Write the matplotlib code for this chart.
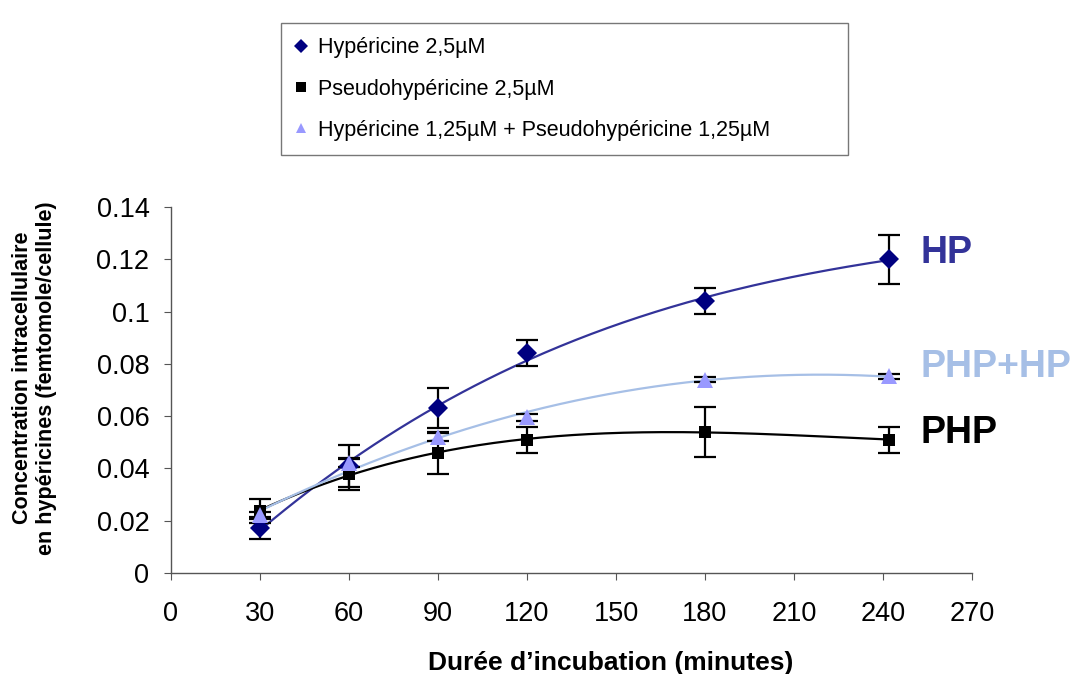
import numpy as np
import matplotlib.pyplot as plt

plt.rcParams['font.family'] = ['Liberation Sans', 'DejaVu Sans']

# time points (minutes)
t = [30, 60, 90, 120, 180, 242]

hp = [0.0172, 0.041, 0.0631, 0.0840, 0.1040, 0.1200]
hp_err = [0.0043, 0.008, 0.0075, 0.0050, 0.0050, 0.0094]

php = [0.0238, 0.0379, 0.0459, 0.0510, 0.0540, 0.0510]
php_err = [0.0045, 0.0060, 0.0080, 0.0050, 0.0095, 0.0050]

mix = [0.0220, 0.0420, 0.0520, 0.0595, 0.0740, 0.0752]
mix_err = [0.0015, 0.0015, 0.0015, 0.0015, 0.0010, 0.0010]

labels = ['Hypéricine 2,5µM', 'Pseudohypéricine 2,5µM',
          'Hypéricine 1,25µM + Pseudohypéricine 1,25µM']

hp_line = '#333399'
mix_line = '#a6bfe6'

fig = plt.figure(figsize=(10.72, 6.74), dpi=100)
ax = fig.add_axes([171/1072, 1 - 573/674, (972-171)/1072, (573-207)/674])

xs = np.linspace(t[0], t[-1], 200)
series = [
    (hp, hp_err, 'D', '#000080', hp_line, 10, labels[0], 3),
    (php, php_err, 's', 'black', 'black', 8.5, labels[1], 3),
    (mix, mix_err, '^', '#9999ff', mix_line, 11, labels[2], 2),
]
handles = []
for vals, err, mk, mc, lc, ms, lab, deg in series:
    # polynomial trend line fitted to the data
    coef = np.polyfit(t, vals, deg)
    ax.plot(xs, np.polyval(coef, xs), color=lc, lw=1.6, zorder=2)
    ax.errorbar(t, vals, yerr=err, fmt='none', ecolor='black', elinewidth=1.6,
                capsize=8, capthick=1.6, zorder=3)
    h, = ax.plot(t, vals, linestyle='none', marker=mk, color=mc, ms=ms,
                 markeredgewidth=0, zorder=4, label=lab)
    handles.append(h)

ax.set_xlim(0, 270)
ax.set_ylim(0, 0.14)
ax.set_xticks(range(0, 271, 30))
ax.set_yticks(np.arange(0, 0.141, 0.02))
ax.set_yticklabels(['0', '0.02', '0.04', '0.06', '0.08', '0.1', '0.12', '0.14'])
for s in ['top', 'right']:
    ax.spines[s].set_visible(False)
for s in ['left', 'bottom']:
    ax.spines[s].set_color('#555555')
    ax.spines[s].set_linewidth(1)
ax.tick_params(direction='out', length=5, color='#555555', labelsize=19.5)
ax.tick_params(axis='x', pad=15)
ax.tick_params(axis='y', pad=10.5)

ax.set_xlabel('Durée d’incubation (minutes)', fontsize=19, fontweight='bold')
ax.xaxis.set_label_coords(0.549, -0.213)
ax.set_ylabel('Concentration intracellulaire\nen hypéricines (femtomole/cellule)',
              fontsize=15.5, fontweight='bold')
ax.yaxis.set_label_coords(-0.142, 0.533)

ax.text(252.8, 0.1186, 'HP', color=hp_line, fontsize=27, fontweight='bold', va='baseline')
ax.text(252.8, 0.0750, 'PHP+HP', color=mix_line, fontsize=27, fontweight='bold', va='baseline')
ax.text(252.8, 0.0497, 'PHP', color='black', fontsize=27, fontweight='bold', va='baseline')

leg_h = [plt.Line2D([], [], linestyle='none', marker=h.get_marker(), color=h.get_color(),
                    ms=7.5, markeredgewidth=0) for h in handles]
x0, y0 = 281/1072, 1 - 155/674
leg = fig.legend(leg_h, labels, loc='lower left', mode='expand',
                 bbox_to_anchor=(x0, y0, 848/1072 - x0, 135/674), fontsize=15.5,
                 frameon=True, fancybox=False, edgecolor='#555555', handlelength=0.6,
                 handletextpad=0.47, labelspacing=0.95, borderpad=0.65, borderaxespad=0)
leg.get_frame().set_linewidth(1)

fig.savefig('out.png', dpi=100)
